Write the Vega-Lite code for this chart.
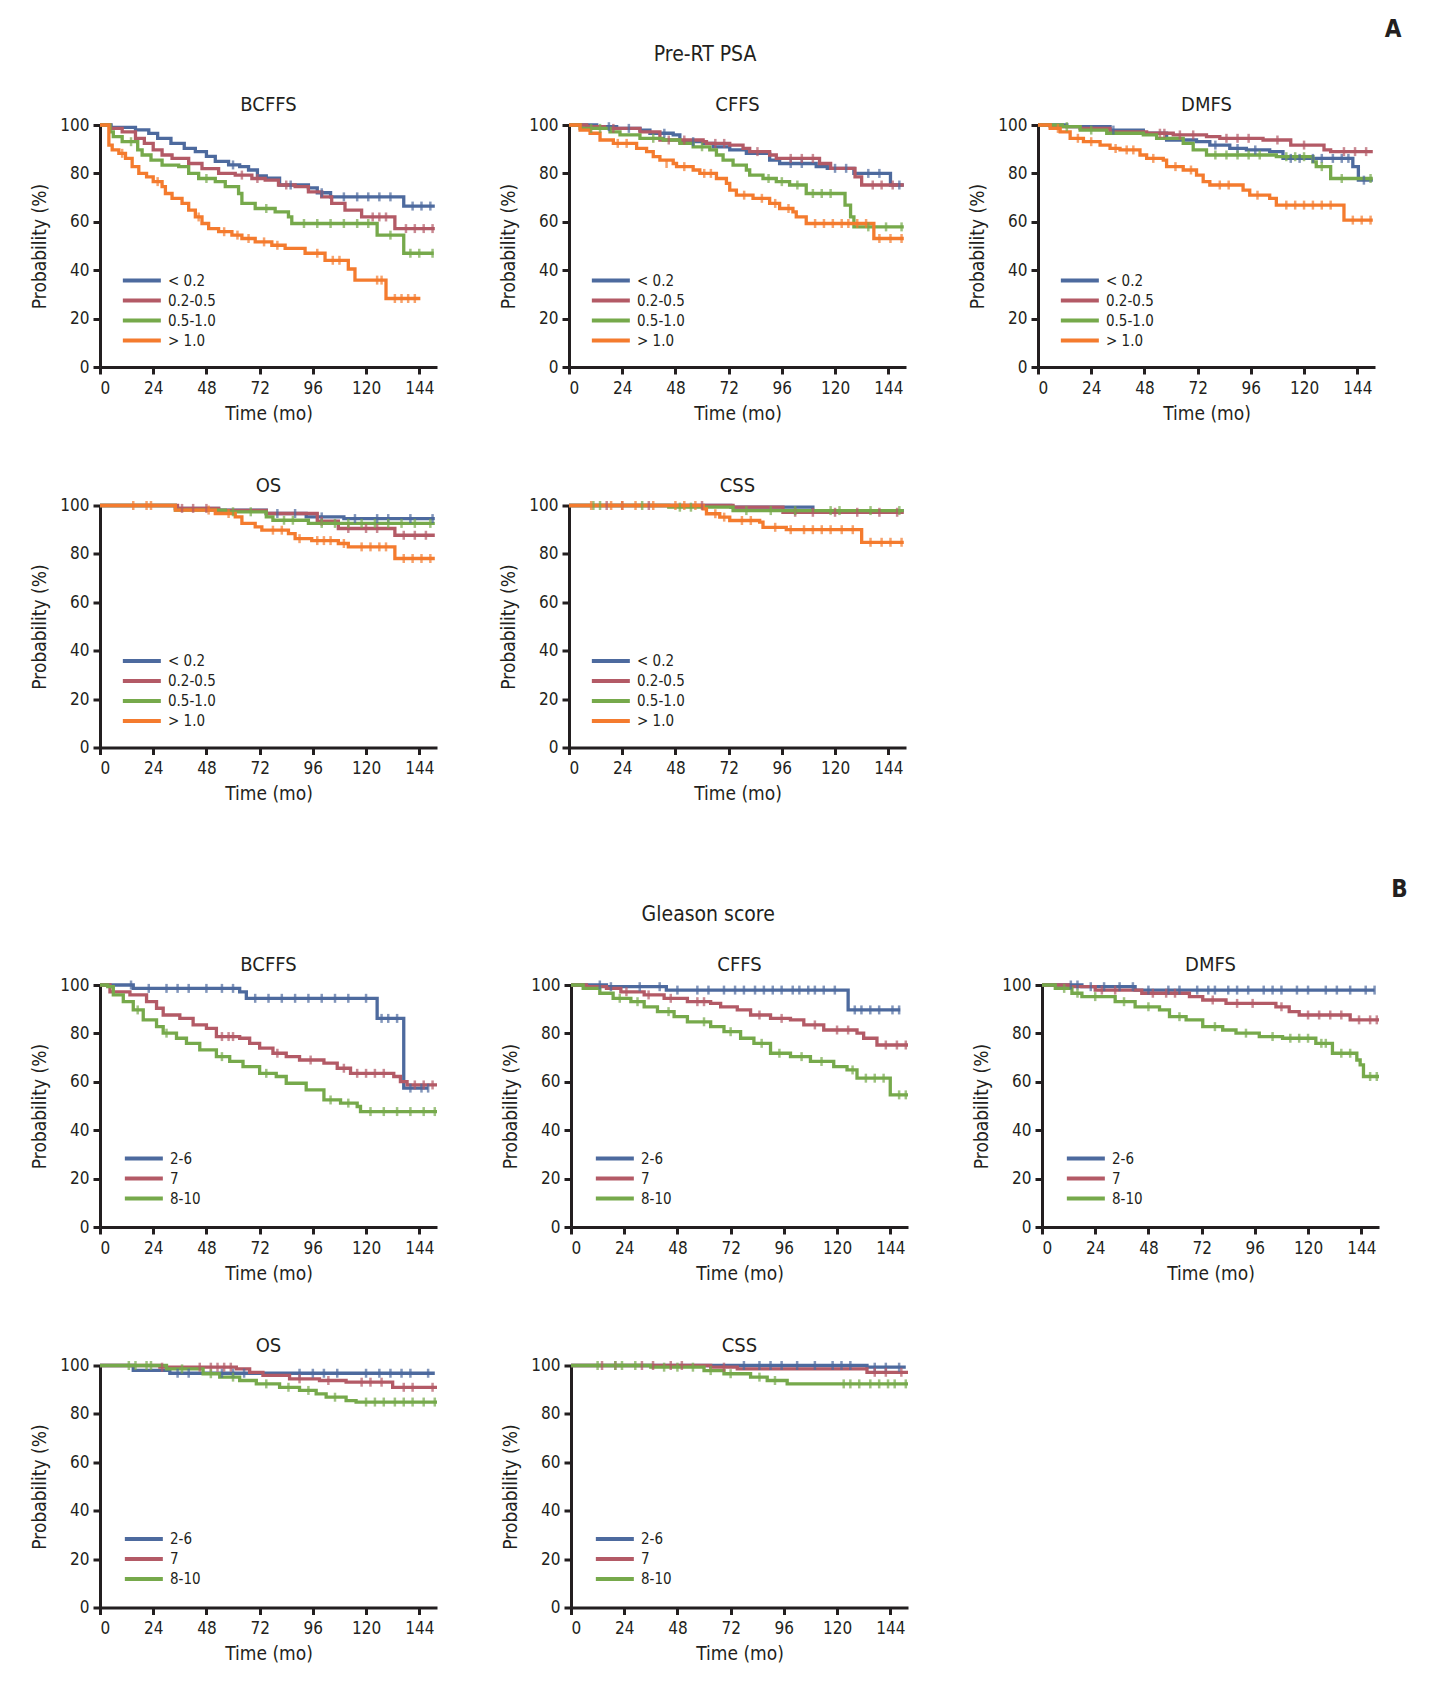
{
"$schema":"https://vega.github.io/schema/vega-lite/v6.json",
"background":"white",
"padding":{"left":30,"top":18,"right":5,"bottom":5},
"config":{
 "font":"Liberation Sans Narrow, DejaVu Sans Condensed, sans-serif",
 "view":{"continuousWidth":337,"continuousHeight":242,"stroke":null},
 "axis":{"grid":false,"domainColor":"#231F20","domainWidth":3,"tickColor":"#231F20","tickWidth":3,"tickSize":7,"labelFontSize":17,"labelColor":"#231F20","labelPadding":4,"titleFontSize":19,"titleFontWeight":"normal","titleColor":"#231F20"},
 "axisX":{"titlePadding":8,"labelPadding":6},
 "axisY":{"titlePadding":10},
 "legend":{"orient":"bottom-left","offset":18,"padding":0,"symbolType":"M-0.7,0H3.3","symbolSize":361,"symbolStrokeWidth":4,"labelFontSize":15,"labelColor":"#231F20","rowPadding":0,"labelOffset":27},
 "title":{"fontSize":20,"fontWeight":"normal","color":"#231F20","offset":1},
 "tick":{"thickness":2.5}
},
"datasets":{
"A_BCFFS":[
{"g":"< 0.2","t":0,"s":100},{"g":"< 0.2","t":5,"s":99},{"g":"< 0.2","t":16,"s":98},{"g":"< 0.2","t":22,"s":96.5},{"g":"< 0.2","t":26,"s":94.5},{"g":"< 0.2","t":32,"s":92.4},{"g":"< 0.2","t":38,"s":90.3},{"g":"< 0.2","t":43,"s":89},{"g":"< 0.2","t":48,"s":87},{"g":"< 0.2","t":52,"s":85},{"g":"< 0.2","t":58,"s":83.5},{"g":"< 0.2","t":63,"s":82.8},{"g":"< 0.2","t":67,"s":81.4},{"g":"< 0.2","t":71,"s":79},{"g":"< 0.2","t":75,"s":78},{"g":"< 0.2","t":81,"s":75.2},{"g":"< 0.2","t":94,"s":74},{"g":"< 0.2","t":98,"s":72},{"g":"< 0.2","t":104,"s":70.3},{"g":"< 0.2","t":137,"s":66.5},{"g":"< 0.2","t":151,"s":66.5},
{"g":"< 0.2","t":60,"s":83.5,"c":1},{"g":"< 0.2","t":86,"s":75.2,"c":1},{"g":"< 0.2","t":100,"s":72,"c":1},{"g":"< 0.2","t":110,"s":70.3,"c":1},{"g":"< 0.2","t":116,"s":70.3,"c":1},{"g":"< 0.2","t":121,"s":70.3,"c":1},{"g":"< 0.2","t":126,"s":70.3,"c":1},{"g":"< 0.2","t":131,"s":70.3,"c":1},{"g":"< 0.2","t":141,"s":66.5,"c":1},{"g":"< 0.2","t":145,"s":66.5,"c":1},{"g":"< 0.2","t":149,"s":66.5,"c":1},
{"g":"0.2-0.5","t":0,"s":100},{"g":"0.2-0.5","t":4.5,"s":98.6},{"g":"0.2-0.5","t":10,"s":97.2},{"g":"0.2-0.5","t":16,"s":94.5},{"g":"0.2-0.5","t":20,"s":92.4},{"g":"0.2-0.5","t":24,"s":89.7},{"g":"0.2-0.5","t":28,"s":87.6},{"g":"0.2-0.5","t":32.5,"s":86.2},{"g":"0.2-0.5","t":40,"s":84.1},{"g":"0.2-0.5","t":46,"s":82},{"g":"0.2-0.5","t":53.5,"s":80},{"g":"0.2-0.5","t":61,"s":79.3},{"g":"0.2-0.5","t":68.5,"s":77.9},{"g":"0.2-0.5","t":74.5,"s":77.2},{"g":"0.2-0.5","t":80.5,"s":75.2},{"g":"0.2-0.5","t":88,"s":74.5},{"g":"0.2-0.5","t":94,"s":72.4},{"g":"0.2-0.5","t":100,"s":70.3},{"g":"0.2-0.5","t":104.5,"s":67.6},{"g":"0.2-0.5","t":110.5,"s":64.8},{"g":"0.2-0.5","t":118,"s":62},{"g":"0.2-0.5","t":133,"s":57.2},{"g":"0.2-0.5","t":151,"s":57.2},
{"g":"0.2-0.5","t":64,"s":79.3,"c":1},{"g":"0.2-0.5","t":71,"s":77.9,"c":1},{"g":"0.2-0.5","t":84,"s":75.2,"c":1},{"g":"0.2-0.5","t":123,"s":62,"c":1},{"g":"0.2-0.5","t":126,"s":62,"c":1},{"g":"0.2-0.5","t":129,"s":62,"c":1},{"g":"0.2-0.5","t":138,"s":57.2,"c":1},{"g":"0.2-0.5","t":142,"s":57.2,"c":1},{"g":"0.2-0.5","t":146,"s":57.2,"c":1},{"g":"0.2-0.5","t":150,"s":57.2,"c":1},
{"g":"0.5-1.0","t":0,"s":100},{"g":"0.5-1.0","t":4.5,"s":97.2},{"g":"0.5-1.0","t":6,"s":95.2},{"g":"0.5-1.0","t":10,"s":93.1},{"g":"0.5-1.0","t":17,"s":89.7},{"g":"0.5-1.0","t":19,"s":87.6},{"g":"0.5-1.0","t":23,"s":85.5},{"g":"0.5-1.0","t":28,"s":83.4},{"g":"0.5-1.0","t":35.5,"s":82.8},{"g":"0.5-1.0","t":40,"s":80},{"g":"0.5-1.0","t":44.5,"s":77.9},{"g":"0.5-1.0","t":52,"s":76.6},{"g":"0.5-1.0","t":56.5,"s":74.5},{"g":"0.5-1.0","t":62.5,"s":71.7},{"g":"0.5-1.0","t":64,"s":67.6},{"g":"0.5-1.0","t":70,"s":65.5},{"g":"0.5-1.0","t":79,"s":64.1},{"g":"0.5-1.0","t":85,"s":62},{"g":"0.5-1.0","t":86.5,"s":59.3},{"g":"0.5-1.0","t":125,"s":54.5},{"g":"0.5-1.0","t":137,"s":47},{"g":"0.5-1.0","t":150.5,"s":47},
{"g":"0.5-1.0","t":14,"s":93.1,"c":1},{"g":"0.5-1.0","t":48,"s":77.9,"c":1},{"g":"0.5-1.0","t":75,"s":65.5,"c":1},{"g":"0.5-1.0","t":92,"s":59.3,"c":1},{"g":"0.5-1.0","t":98,"s":59.3,"c":1},{"g":"0.5-1.0","t":104,"s":59.3,"c":1},{"g":"0.5-1.0","t":110,"s":59.3,"c":1},{"g":"0.5-1.0","t":116,"s":59.3,"c":1},{"g":"0.5-1.0","t":121,"s":59.3,"c":1},{"g":"0.5-1.0","t":131,"s":54.5,"c":1},{"g":"0.5-1.0","t":140,"s":47,"c":1},{"g":"0.5-1.0","t":144,"s":47,"c":1},{"g":"0.5-1.0","t":150,"s":47,"c":1},
{"g":"> 1.0","t":0,"s":100},{"g":"> 1.0","t":4,"s":91.7},{"g":"> 1.0","t":5.5,"s":89.7},{"g":"> 1.0","t":8.5,"s":88.3},{"g":"> 1.0","t":11.5,"s":86.2},{"g":"> 1.0","t":14.5,"s":82.8},{"g":"> 1.0","t":17.5,"s":80},{"g":"> 1.0","t":21,"s":78.6},{"g":"> 1.0","t":24,"s":76.6},{"g":"> 1.0","t":28,"s":74.5},{"g":"> 1.0","t":29.5,"s":71.7},{"g":"> 1.0","t":32.5,"s":69.7},{"g":"> 1.0","t":37,"s":67.6},{"g":"> 1.0","t":40,"s":64.8},{"g":"> 1.0","t":43,"s":62},{"g":"> 1.0","t":46,"s":59.3},{"g":"> 1.0","t":49,"s":57.2},{"g":"> 1.0","t":53.5,"s":55.9},{"g":"> 1.0","t":59.5,"s":54.5},{"g":"> 1.0","t":64,"s":53.1},{"g":"> 1.0","t":70,"s":51.7},{"g":"> 1.0","t":77.5,"s":50.3},{"g":"> 1.0","t":83.5,"s":49},{"g":"> 1.0","t":92.5,"s":47},{"g":"> 1.0","t":101.5,"s":44.1},{"g":"> 1.0","t":112,"s":40.5},{"g":"> 1.0","t":115,"s":35.9},{"g":"> 1.0","t":129,"s":28.3},{"g":"> 1.0","t":144.5,"s":28.3},
{"g":"> 1.0","t":10,"s":88.3,"c":1},{"g":"> 1.0","t":26,"s":76.6,"c":1},{"g":"> 1.0","t":44.5,"s":62,"c":1},{"g":"> 1.0","t":56,"s":55.9,"c":1},{"g":"> 1.0","t":62,"s":54.5,"c":1},{"g":"> 1.0","t":67,"s":53.1,"c":1},{"g":"> 1.0","t":74,"s":51.7,"c":1},{"g":"> 1.0","t":80,"s":50.3,"c":1},{"g":"> 1.0","t":98,"s":47,"c":1},{"g":"> 1.0","t":105,"s":44.1,"c":1},{"g":"> 1.0","t":108,"s":44.1,"c":1},{"g":"> 1.0","t":125,"s":35.9,"c":1},{"g":"> 1.0","t":127,"s":35.9,"c":1},{"g":"> 1.0","t":133,"s":28.3,"c":1},{"g":"> 1.0","t":136,"s":28.3,"c":1},{"g":"> 1.0","t":139,"s":28.3,"c":1},{"g":"> 1.0","t":142,"s":28.3,"c":1}
],
"A_CFFS":[
{"g":"< 0.2","t":0,"s":100},{"g":"< 0.2","t":12.5,"s":99.3},{"g":"< 0.2","t":21.5,"s":98.6},{"g":"< 0.2","t":32,"s":97.9},{"g":"< 0.2","t":36.5,"s":96.6},{"g":"< 0.2","t":47,"s":95.9},{"g":"< 0.2","t":50,"s":93.1},{"g":"< 0.2","t":60.5,"s":92.4},{"g":"< 0.2","t":65,"s":91},{"g":"< 0.2","t":72.5,"s":89.7},{"g":"< 0.2","t":80,"s":88.3},{"g":"< 0.2","t":90.5,"s":85.5},{"g":"< 0.2","t":95,"s":84.1},{"g":"< 0.2","t":111.5,"s":82.8},{"g":"< 0.2","t":116.5,"s":82.1},{"g":"< 0.2","t":128.5,"s":80},{"g":"< 0.2","t":145,"s":75.2},{"g":"< 0.2","t":151,"s":75.2},
{"g":"< 0.2","t":18,"s":99.3,"c":1},{"g":"< 0.2","t":27,"s":98.6,"c":1},{"g":"< 0.2","t":43,"s":96.6,"c":1},{"g":"< 0.2","t":56,"s":93.1,"c":1},{"g":"< 0.2","t":100,"s":84.1,"c":1},{"g":"< 0.2","t":105,"s":84.1,"c":1},{"g":"< 0.2","t":120,"s":82.1,"c":1},{"g":"< 0.2","t":125,"s":82.1,"c":1},{"g":"< 0.2","t":135,"s":80,"c":1},{"g":"< 0.2","t":140,"s":80,"c":1},{"g":"< 0.2","t":149,"s":75.2,"c":1},
{"g":"0.2-0.5","t":0,"s":100},{"g":"0.2-0.5","t":8,"s":99.3},{"g":"0.2-0.5","t":16,"s":98.6},{"g":"0.2-0.5","t":32,"s":97.2},{"g":"0.2-0.5","t":41,"s":93.8},{"g":"0.2-0.5","t":60.5,"s":93.1},{"g":"0.2-0.5","t":62,"s":92.4},{"g":"0.2-0.5","t":72.5,"s":91.7},{"g":"0.2-0.5","t":78.5,"s":90.3},{"g":"0.2-0.5","t":81.5,"s":89},{"g":"0.2-0.5","t":90.5,"s":87.6},{"g":"0.2-0.5","t":93.5,"s":86.2},{"g":"0.2-0.5","t":113,"s":84.1},{"g":"0.2-0.5","t":118,"s":82.1},{"g":"0.2-0.5","t":129,"s":78.6},{"g":"0.2-0.5","t":132,"s":75.2},{"g":"0.2-0.5","t":151,"s":75.2},
{"g":"0.2-0.5","t":20,"s":98.6,"c":1},{"g":"0.2-0.5","t":45,"s":93.8,"c":1},{"g":"0.2-0.5","t":52,"s":93.8,"c":1},{"g":"0.2-0.5","t":66,"s":92.4,"c":1},{"g":"0.2-0.5","t":70,"s":92.4,"c":1},{"g":"0.2-0.5","t":85,"s":89,"c":1},{"g":"0.2-0.5","t":100,"s":86.2,"c":1},{"g":"0.2-0.5","t":105,"s":86.2,"c":1},{"g":"0.2-0.5","t":110,"s":86.2,"c":1},{"g":"0.2-0.5","t":137,"s":75.2,"c":1},{"g":"0.2-0.5","t":141,"s":75.2,"c":1},{"g":"0.2-0.5","t":146,"s":75.2,"c":1},
{"g":"0.5-1.0","t":0,"s":100},{"g":"0.5-1.0","t":5,"s":98.6},{"g":"0.5-1.0","t":18.5,"s":97.2},{"g":"0.5-1.0","t":23,"s":95.9},{"g":"0.5-1.0","t":32,"s":94.5},{"g":"0.5-1.0","t":42.5,"s":93.8},{"g":"0.5-1.0","t":50,"s":92.4},{"g":"0.5-1.0","t":56,"s":91},{"g":"0.5-1.0","t":63.5,"s":89.7},{"g":"0.5-1.0","t":66.5,"s":87.6},{"g":"0.5-1.0","t":69.5,"s":85.5},{"g":"0.5-1.0","t":74,"s":83.4},{"g":"0.5-1.0","t":80,"s":81.4},{"g":"0.5-1.0","t":81.5,"s":79.3},{"g":"0.5-1.0","t":87.5,"s":77.9},{"g":"0.5-1.0","t":93.5,"s":76.6},{"g":"0.5-1.0","t":99.5,"s":75.2},{"g":"0.5-1.0","t":107,"s":71.7},{"g":"0.5-1.0","t":124.5,"s":66.9},{"g":"0.5-1.0","t":127,"s":62},{"g":"0.5-1.0","t":128.5,"s":57.9},{"g":"0.5-1.0","t":151,"s":57.9},
{"g":"0.5-1.0","t":10,"s":98.6,"c":1},{"g":"0.5-1.0","t":14,"s":98.6,"c":1},{"g":"0.5-1.0","t":38,"s":94.5,"c":1},{"g":"0.5-1.0","t":60,"s":91,"c":1},{"g":"0.5-1.0","t":90,"s":77.9,"c":1},{"g":"0.5-1.0","t":96,"s":76.6,"c":1},{"g":"0.5-1.0","t":103,"s":75.2,"c":1},{"g":"0.5-1.0","t":110,"s":71.7,"c":1},{"g":"0.5-1.0","t":114,"s":71.7,"c":1},{"g":"0.5-1.0","t":118,"s":71.7,"c":1},{"g":"0.5-1.0","t":135,"s":57.9,"c":1},{"g":"0.5-1.0","t":143,"s":57.9,"c":1},{"g":"0.5-1.0","t":150,"s":57.9,"c":1},
{"g":"> 1.0","t":0,"s":100},{"g":"> 1.0","t":5,"s":97.9},{"g":"> 1.0","t":9.5,"s":96.6},{"g":"> 1.0","t":14,"s":93.8},{"g":"> 1.0","t":20,"s":92.4},{"g":"> 1.0","t":30.5,"s":90.3},{"g":"> 1.0","t":35,"s":89},{"g":"> 1.0","t":38,"s":86.9},{"g":"> 1.0","t":41,"s":85.5},{"g":"> 1.0","t":47,"s":84.1},{"g":"> 1.0","t":48.5,"s":82.8},{"g":"> 1.0","t":56,"s":81.4},{"g":"> 1.0","t":59,"s":80},{"g":"> 1.0","t":66.5,"s":77.9},{"g":"> 1.0","t":71,"s":75.9},{"g":"> 1.0","t":72.5,"s":73.1},{"g":"> 1.0","t":75.5,"s":71},{"g":"> 1.0","t":83,"s":69.7},{"g":"> 1.0","t":90.5,"s":67.6},{"g":"> 1.0","t":95,"s":65.5},{"g":"> 1.0","t":101,"s":64.1},{"g":"> 1.0","t":102.5,"s":62},{"g":"> 1.0","t":107,"s":59.3},{"g":"> 1.0","t":137.5,"s":53.1},{"g":"> 1.0","t":151,"s":53.1},
{"g":"> 1.0","t":22,"s":92.4,"c":1},{"g":"> 1.0","t":26,"s":92.4,"c":1},{"g":"> 1.0","t":44,"s":84.1,"c":1},{"g":"> 1.0","t":52,"s":82.8,"c":1},{"g":"> 1.0","t":61,"s":80,"c":1},{"g":"> 1.0","t":64,"s":80,"c":1},{"g":"> 1.0","t":79,"s":71,"c":1},{"g":"> 1.0","t":87,"s":69.7,"c":1},{"g":"> 1.0","t":93,"s":67.6,"c":1},{"g":"> 1.0","t":99,"s":65.5,"c":1},{"g":"> 1.0","t":111,"s":59.3,"c":1},{"g":"> 1.0","t":115,"s":59.3,"c":1},{"g":"> 1.0","t":119,"s":59.3,"c":1},{"g":"> 1.0","t":123,"s":59.3,"c":1},{"g":"> 1.0","t":126,"s":59.3,"c":1},{"g":"> 1.0","t":130,"s":59.3,"c":1},{"g":"> 1.0","t":134,"s":59.3,"c":1},{"g":"> 1.0","t":140,"s":53.1,"c":1},{"g":"> 1.0","t":145,"s":53.1,"c":1},{"g":"> 1.0","t":150,"s":53.1,"c":1}
],
"A_DMFS":[
{"g":"< 0.2","t":0,"s":100},{"g":"< 0.2","t":13,"s":99.3},{"g":"< 0.2","t":32.5,"s":97.9},{"g":"< 0.2","t":47.5,"s":96.6},{"g":"< 0.2","t":58,"s":93.8},{"g":"< 0.2","t":71.5,"s":93.1},{"g":"< 0.2","t":77.5,"s":91.7},{"g":"< 0.2","t":86.5,"s":90.3},{"g":"< 0.2","t":94,"s":89.7},{"g":"< 0.2","t":104.5,"s":89},{"g":"< 0.2","t":110.5,"s":86.2},{"g":"< 0.2","t":142,"s":82.8},{"g":"< 0.2","t":144.5,"s":77.2},{"g":"< 0.2","t":151,"s":77.2},
{"g":"< 0.2","t":34,"s":97.9,"c":1},{"g":"< 0.2","t":80,"s":91.7,"c":1},{"g":"< 0.2","t":90,"s":90.3,"c":1},{"g":"< 0.2","t":98,"s":89.7,"c":1},{"g":"< 0.2","t":114,"s":86.2,"c":1},{"g":"< 0.2","t":118,"s":86.2,"c":1},{"g":"< 0.2","t":124,"s":86.2,"c":1},{"g":"< 0.2","t":128,"s":86.2,"c":1},{"g":"< 0.2","t":133,"s":86.2,"c":1},{"g":"< 0.2","t":137,"s":86.2,"c":1},{"g":"< 0.2","t":140,"s":86.2,"c":1},{"g":"< 0.2","t":147,"s":77.2,"c":1},
{"g":"0.2-0.5","t":0,"s":100},{"g":"0.2-0.5","t":5.5,"s":99.3},{"g":"0.2-0.5","t":19,"s":98.6},{"g":"0.2-0.5","t":32.5,"s":97.2},{"g":"0.2-0.5","t":49,"s":96.6},{"g":"0.2-0.5","t":61,"s":95.9},{"g":"0.2-0.5","t":76,"s":95.2},{"g":"0.2-0.5","t":82,"s":94.5},{"g":"0.2-0.5","t":101.5,"s":93.8},{"g":"0.2-0.5","t":114,"s":91.7},{"g":"0.2-0.5","t":129,"s":89.7},{"g":"0.2-0.5","t":132,"s":89},{"g":"0.2-0.5","t":151,"s":89},
{"g":"0.2-0.5","t":55,"s":96.6,"c":1},{"g":"0.2-0.5","t":57,"s":96.6,"c":1},{"g":"0.2-0.5","t":64,"s":95.9,"c":1},{"g":"0.2-0.5","t":70,"s":95.9,"c":1},{"g":"0.2-0.5","t":85,"s":94.5,"c":1},{"g":"0.2-0.5","t":90,"s":94.5,"c":1},{"g":"0.2-0.5","t":95,"s":94.5,"c":1},{"g":"0.2-0.5","t":108,"s":93.8,"c":1},{"g":"0.2-0.5","t":120,"s":91.7,"c":1},{"g":"0.2-0.5","t":138,"s":89,"c":1},{"g":"0.2-0.5","t":143,"s":89,"c":1},{"g":"0.2-0.5","t":148,"s":89,"c":1},
{"g":"0.5-1.0","t":0,"s":100},{"g":"0.5-1.0","t":11,"s":99.3},{"g":"0.5-1.0","t":19,"s":97.9},{"g":"0.5-1.0","t":31,"s":96.6},{"g":"0.5-1.0","t":47.5,"s":95.9},{"g":"0.5-1.0","t":53.5,"s":94.5},{"g":"0.5-1.0","t":65.5,"s":92.4},{"g":"0.5-1.0","t":70,"s":89.7},{"g":"0.5-1.0","t":76,"s":87.6},{"g":"0.5-1.0","t":107.5,"s":86.9},{"g":"0.5-1.0","t":124,"s":84.8},{"g":"0.5-1.0","t":125.5,"s":82.8},{"g":"0.5-1.0","t":132,"s":77.9},{"g":"0.5-1.0","t":151,"s":77.9},
{"g":"0.5-1.0","t":13,"s":99.3,"c":1},{"g":"0.5-1.0","t":24,"s":97.9,"c":1},{"g":"0.5-1.0","t":80,"s":87.6,"c":1},{"g":"0.5-1.0","t":85,"s":87.6,"c":1},{"g":"0.5-1.0","t":90,"s":87.6,"c":1},{"g":"0.5-1.0","t":95,"s":87.6,"c":1},{"g":"0.5-1.0","t":100,"s":87.6,"c":1},{"g":"0.5-1.0","t":112,"s":86.9,"c":1},{"g":"0.5-1.0","t":116,"s":86.9,"c":1},{"g":"0.5-1.0","t":120,"s":86.9,"c":1},{"g":"0.5-1.0","t":128,"s":82.8,"c":1},{"g":"0.5-1.0","t":137,"s":77.9,"c":1},{"g":"0.5-1.0","t":150,"s":77.9,"c":1},
{"g":"> 1.0","t":0,"s":100},{"g":"> 1.0","t":5.5,"s":98.6},{"g":"> 1.0","t":10,"s":97.2},{"g":"> 1.0","t":14.5,"s":94.5},{"g":"> 1.0","t":20.5,"s":93.1},{"g":"> 1.0","t":28,"s":91.7},{"g":"> 1.0","t":32.5,"s":90.3},{"g":"> 1.0","t":37,"s":89.7},{"g":"> 1.0","t":46,"s":87.6},{"g":"> 1.0","t":49,"s":86.2},{"g":"> 1.0","t":56.5,"s":85.5},{"g":"> 1.0","t":58,"s":82.8},{"g":"> 1.0","t":65.5,"s":81.4},{"g":"> 1.0","t":71.5,"s":79.3},{"g":"> 1.0","t":74.5,"s":76.6},{"g":"> 1.0","t":77.5,"s":75.2},{"g":"> 1.0","t":92.5,"s":73.1},{"g":"> 1.0","t":95.5,"s":71},{"g":"> 1.0","t":104.5,"s":69.7},{"g":"> 1.0","t":107.5,"s":66.9},{"g":"> 1.0","t":138,"s":60.7},{"g":"> 1.0","t":151,"s":60.7},
{"g":"> 1.0","t":9,"s":98.6,"c":1},{"g":"> 1.0","t":18,"s":94.5,"c":1},{"g":"> 1.0","t":24,"s":93.1,"c":1},{"g":"> 1.0","t":35,"s":90.3,"c":1},{"g":"> 1.0","t":40,"s":89.7,"c":1},{"g":"> 1.0","t":43,"s":89.7,"c":1},{"g":"> 1.0","t":52,"s":86.2,"c":1},{"g":"> 1.0","t":62,"s":82.8,"c":1},{"g":"> 1.0","t":69,"s":81.4,"c":1},{"g":"> 1.0","t":82,"s":75.2,"c":1},{"g":"> 1.0","t":86,"s":75.2,"c":1},{"g":"> 1.0","t":99,"s":71,"c":1},{"g":"> 1.0","t":112,"s":66.9,"c":1},{"g":"> 1.0","t":116,"s":66.9,"c":1},{"g":"> 1.0","t":120,"s":66.9,"c":1},{"g":"> 1.0","t":124,"s":66.9,"c":1},{"g":"> 1.0","t":128,"s":66.9,"c":1},{"g":"> 1.0","t":132,"s":66.9,"c":1},{"g":"> 1.0","t":142,"s":60.7,"c":1},{"g":"> 1.0","t":146,"s":60.7,"c":1},{"g":"> 1.0","t":150,"s":60.7,"c":1}
],
"A_OS":[
{"g":"< 0.2","t":0,"s":100},{"g":"< 0.2","t":34,"s":98.8},{"g":"< 0.2","t":53.5,"s":98.1},{"g":"< 0.2","t":75,"s":96.7},{"g":"< 0.2","t":93,"s":95.3},{"g":"< 0.2","t":110,"s":94.6},{"g":"< 0.2","t":151,"s":94.6},
{"g":"< 0.2","t":80,"s":96.7,"c":1},{"g":"< 0.2","t":88,"s":96.7,"c":1},{"g":"< 0.2","t":100,"s":95.3,"c":1},{"g":"< 0.2","t":115,"s":94.6,"c":1},{"g":"< 0.2","t":125,"s":94.6,"c":1},{"g":"< 0.2","t":130,"s":94.6,"c":1},{"g":"< 0.2","t":140,"s":94.6,"c":1},{"g":"< 0.2","t":150,"s":94.6,"c":1},
{"g":"0.2-0.5","t":0,"s":100},{"g":"0.2-0.5","t":35,"s":98.8},{"g":"0.2-0.5","t":53.5,"s":98},{"g":"0.2-0.5","t":75,"s":96.7},{"g":"0.2-0.5","t":98,"s":93.5},{"g":"0.2-0.5","t":107.5,"s":90.5},{"g":"0.2-0.5","t":133,"s":87.7},{"g":"0.2-0.5","t":151,"s":87.7},
{"g":"0.2-0.5","t":37,"s":98.8,"c":1},{"g":"0.2-0.5","t":42,"s":98.8,"c":1},{"g":"0.2-0.5","t":48,"s":98.8,"c":1},{"g":"0.2-0.5","t":100,"s":93.5,"c":1},{"g":"0.2-0.5","t":112,"s":90.5,"c":1},{"g":"0.2-0.5","t":120,"s":90.5,"c":1},{"g":"0.2-0.5","t":125,"s":90.5,"c":1},{"g":"0.2-0.5","t":137,"s":87.7,"c":1},{"g":"0.2-0.5","t":142,"s":87.7,"c":1},{"g":"0.2-0.5","t":147,"s":87.7,"c":1},
{"g":"0.5-1.0","t":0,"s":100},{"g":"0.5-1.0","t":34,"s":98.1},{"g":"0.5-1.0","t":56.5,"s":97.4},{"g":"0.5-1.0","t":75,"s":95.3},{"g":"0.5-1.0","t":78,"s":93.9},{"g":"0.5-1.0","t":94,"s":92.6},{"g":"0.5-1.0","t":151,"s":92.6},
{"g":"0.5-1.0","t":60,"s":97.4,"c":1},{"g":"0.5-1.0","t":68,"s":97.4,"c":1},{"g":"0.5-1.0","t":83,"s":93.9,"c":1},{"g":"0.5-1.0","t":87,"s":93.9,"c":1},{"g":"0.5-1.0","t":100,"s":92.6,"c":1},{"g":"0.5-1.0","t":106,"s":92.6,"c":1},{"g":"0.5-1.0","t":112,"s":92.6,"c":1},{"g":"0.5-1.0","t":118,"s":92.6,"c":1},{"g":"0.5-1.0","t":124,"s":92.6,"c":1},{"g":"0.5-1.0","t":130,"s":92.6,"c":1},{"g":"0.5-1.0","t":136,"s":92.6,"c":1},{"g":"0.5-1.0","t":142,"s":92.6,"c":1},{"g":"0.5-1.0","t":149,"s":92.6,"c":1},
{"g":"> 1.0","t":0,"s":100},{"g":"> 1.0","t":34,"s":98.1},{"g":"> 1.0","t":52,"s":96.7},{"g":"> 1.0","t":61,"s":95.3},{"g":"> 1.0","t":64,"s":92.6},{"g":"> 1.0","t":70,"s":91.2},{"g":"> 1.0","t":73,"s":89.8},{"g":"> 1.0","t":85,"s":88.4},{"g":"> 1.0","t":88,"s":86.3},{"g":"> 1.0","t":95.5,"s":85.5},{"g":"> 1.0","t":107.5,"s":84.3},{"g":"> 1.0","t":112,"s":82.9},{"g":"> 1.0","t":133,"s":78.1},{"g":"> 1.0","t":151,"s":78.1},
{"g":"> 1.0","t":15,"s":100,"c":1},{"g":"> 1.0","t":21,"s":100,"c":1},{"g":"> 1.0","t":23,"s":100,"c":1},{"g":"> 1.0","t":49,"s":98.1,"c":1},{"g":"> 1.0","t":58,"s":96.7,"c":1},{"g":"> 1.0","t":78,"s":89.8,"c":1},{"g":"> 1.0","t":82,"s":89.8,"c":1},{"g":"> 1.0","t":90,"s":86.3,"c":1},{"g":"> 1.0","t":98,"s":85.5,"c":1},{"g":"> 1.0","t":101,"s":85.5,"c":1},{"g":"> 1.0","t":104,"s":85.5,"c":1},{"g":"> 1.0","t":110,"s":84.3,"c":1},{"g":"> 1.0","t":118,"s":82.9,"c":1},{"g":"> 1.0","t":122,"s":82.9,"c":1},{"g":"> 1.0","t":126,"s":82.9,"c":1},{"g":"> 1.0","t":129,"s":82.9,"c":1},{"g":"> 1.0","t":137,"s":78.1,"c":1},{"g":"> 1.0","t":141,"s":78.1,"c":1},{"g":"> 1.0","t":145,"s":78.1,"c":1},{"g":"> 1.0","t":149,"s":78.1,"c":1}
],
"A_CSS":[
{"g":"< 0.2","t":0,"s":100},{"g":"< 0.2","t":73,"s":99.3},{"g":"< 0.2","t":110,"s":97.9},{"g":"< 0.2","t":151,"s":97.9},
{"g":"0.2-0.5","t":0,"s":100},{"g":"0.2-0.5","t":74,"s":99.3},{"g":"0.2-0.5","t":96.5,"s":97.2},{"g":"0.2-0.5","t":151,"s":97.2},
{"g":"0.2-0.5","t":17,"s":100,"c":1},{"g":"0.2-0.5","t":24,"s":100,"c":1},{"g":"0.2-0.5","t":36,"s":100,"c":1},{"g":"0.2-0.5","t":60,"s":100,"c":1},{"g":"0.2-0.5","t":102,"s":97.2,"c":1},{"g":"0.2-0.5","t":110,"s":97.2,"c":1},{"g":"0.2-0.5","t":120,"s":97.2,"c":1},{"g":"0.2-0.5","t":130,"s":97.2,"c":1},{"g":"0.2-0.5","t":140,"s":97.2,"c":1},{"g":"0.2-0.5","t":148,"s":97.2,"c":1},
{"g":"0.5-1.0","t":0,"s":100},{"g":"0.5-1.0","t":45,"s":99.3},{"g":"0.5-1.0","t":74,"s":97.9},{"g":"0.5-1.0","t":151,"s":97.9},
{"g":"0.5-1.0","t":11,"s":100,"c":1},{"g":"0.5-1.0","t":14,"s":100,"c":1},{"g":"0.5-1.0","t":33,"s":100,"c":1},{"g":"0.5-1.0","t":50,"s":99.3,"c":1},{"g":"0.5-1.0","t":55,"s":99.3,"c":1},{"g":"0.5-1.0","t":80,"s":97.9,"c":1},{"g":"0.5-1.0","t":91,"s":97.9,"c":1},{"g":"0.5-1.0","t":102,"s":97.9,"c":1},{"g":"0.5-1.0","t":118,"s":97.9,"c":1},{"g":"0.5-1.0","t":122,"s":97.9,"c":1},{"g":"0.5-1.0","t":136,"s":97.9,"c":1},{"g":"0.5-1.0","t":149,"s":97.9,"c":1},
{"g":"> 1.0","t":0,"s":100},{"g":"> 1.0","t":60.5,"s":98.6},{"g":"> 1.0","t":62,"s":96.6},{"g":"> 1.0","t":68,"s":95.2},{"g":"> 1.0","t":72.5,"s":93.8},{"g":"> 1.0","t":86,"s":93.1},{"g":"> 1.0","t":87.5,"s":91},{"g":"> 1.0","t":98,"s":90},{"g":"> 1.0","t":132,"s":84.8},{"g":"> 1.0","t":151,"s":84.8},
{"g":"> 1.0","t":10,"s":100,"c":1},{"g":"> 1.0","t":19,"s":100,"c":1},{"g":"> 1.0","t":24,"s":100,"c":1},{"g":"> 1.0","t":30,"s":100,"c":1},{"g":"> 1.0","t":38,"s":100,"c":1},{"g":"> 1.0","t":48,"s":100,"c":1},{"g":"> 1.0","t":52,"s":100,"c":1},{"g":"> 1.0","t":57,"s":100,"c":1},{"g":"> 1.0","t":66,"s":96.6,"c":1},{"g":"> 1.0","t":70,"s":95.2,"c":1},{"g":"> 1.0","t":78,"s":93.8,"c":1},{"g":"> 1.0","t":82,"s":93.8,"c":1},{"g":"> 1.0","t":93,"s":91,"c":1},{"g":"> 1.0","t":100,"s":90,"c":1},{"g":"> 1.0","t":106,"s":90,"c":1},{"g":"> 1.0","t":110,"s":90,"c":1},{"g":"> 1.0","t":114,"s":90,"c":1},{"g":"> 1.0","t":118,"s":90,"c":1},{"g":"> 1.0","t":123,"s":90,"c":1},{"g":"> 1.0","t":128,"s":90,"c":1},{"g":"> 1.0","t":136,"s":84.8,"c":1},{"g":"> 1.0","t":141,"s":84.8,"c":1},{"g":"> 1.0","t":145,"s":84.8,"c":1},{"g":"> 1.0","t":150,"s":84.8,"c":1}
],
"B_BCFFS":[
{"g":"2-6","t":0,"s":100},{"g":"2-6","t":15,"s":98.6},{"g":"2-6","t":63,"s":97.2},{"g":"2-6","t":66,"s":94.5},{"g":"2-6","t":125,"s":86.2},{"g":"2-6","t":137,"s":57.4},{"g":"2-6","t":148,"s":57.4},
{"g":"2-6","t":14,"s":100,"c":1},{"g":"2-6","t":22,"s":98.6,"c":1},{"g":"2-6","t":30,"s":98.6,"c":1},{"g":"2-6","t":35,"s":98.6,"c":1},{"g":"2-6","t":40,"s":98.6,"c":1},{"g":"2-6","t":48,"s":98.6,"c":1},{"g":"2-6","t":55,"s":98.6,"c":1},{"g":"2-6","t":60,"s":98.6,"c":1},{"g":"2-6","t":70,"s":94.5,"c":1},{"g":"2-6","t":76,"s":94.5,"c":1},{"g":"2-6","t":82,"s":94.5,"c":1},{"g":"2-6","t":88,"s":94.5,"c":1},{"g":"2-6","t":94,"s":94.5,"c":1},{"g":"2-6","t":100,"s":94.5,"c":1},{"g":"2-6","t":106,"s":94.5,"c":1},{"g":"2-6","t":112,"s":94.5,"c":1},{"g":"2-6","t":120,"s":94.5,"c":1},{"g":"2-6","t":127,"s":86.2,"c":1},{"g":"2-6","t":130,"s":86.2,"c":1},{"g":"2-6","t":134,"s":86.2,"c":1},{"g":"2-6","t":140,"s":57.4,"c":1},{"g":"2-6","t":145,"s":57.4,"c":1},{"g":"2-6","t":148,"s":57.4,"c":1},
{"g":"7","t":0,"s":100},{"g":"7","t":4.5,"s":97.2},{"g":"7","t":13.5,"s":95.9},{"g":"7","t":21,"s":93.1},{"g":"7","t":25.5,"s":90.4},{"g":"7","t":28.5,"s":87.6},{"g":"7","t":36,"s":86.2},{"g":"7","t":42,"s":83.5},{"g":"7","t":48,"s":82.1},{"g":"7","t":52.5,"s":78.7},{"g":"7","t":63,"s":78},{"g":"7","t":67.5,"s":75.9},{"g":"7","t":72,"s":73.9},{"g":"7","t":78,"s":71.8},{"g":"7","t":84,"s":70.4},{"g":"7","t":90,"s":69},{"g":"7","t":101,"s":67.7},{"g":"7","t":107,"s":65.6},{"g":"7","t":113,"s":63.5},{"g":"7","t":132.5,"s":62.2},{"g":"7","t":135.5,"s":60.1},{"g":"7","t":138.5,"s":58.7},{"g":"7","t":152,"s":58.7},
{"g":"7","t":55,"s":78.7,"c":1},{"g":"7","t":58,"s":78.7,"c":1},{"g":"7","t":60,"s":78.7,"c":1},{"g":"7","t":80,"s":71.8,"c":1},{"g":"7","t":95,"s":69,"c":1},{"g":"7","t":110,"s":65.6,"c":1},{"g":"7","t":116,"s":63.5,"c":1},{"g":"7","t":120,"s":63.5,"c":1},{"g":"7","t":124,"s":63.5,"c":1},{"g":"7","t":128,"s":63.5,"c":1},{"g":"7","t":142,"s":58.7,"c":1},{"g":"7","t":146,"s":58.7,"c":1},{"g":"7","t":150,"s":58.7,"c":1},
{"g":"8-10","t":0,"s":100},{"g":"8-10","t":3.5,"s":99.3},{"g":"8-10","t":6,"s":95.9},{"g":"8-10","t":10.5,"s":93.1},{"g":"8-10","t":15,"s":89.7},{"g":"8-10","t":19.5,"s":85.6},{"g":"8-10","t":25.5,"s":82.8},{"g":"8-10","t":28.5,"s":80.1},{"g":"8-10","t":34.5,"s":78},{"g":"8-10","t":39,"s":75.9},{"g":"8-10","t":45,"s":73.2},{"g":"8-10","t":52.5,"s":70.4},{"g":"8-10","t":58.5,"s":68.4},{"g":"8-10","t":64.5,"s":66.3},{"g":"8-10","t":72,"s":63.5},{"g":"8-10","t":79.5,"s":62.2},{"g":"8-10","t":84,"s":59.4},{"g":"8-10","t":93,"s":56.7},{"g":"8-10","t":101,"s":52.5},{"g":"8-10","t":108.5,"s":51.2},{"g":"8-10","t":116,"s":49.8},{"g":"8-10","t":117.5,"s":47.7},{"g":"8-10","t":152,"s":47.7},
{"g":"8-10","t":17,"s":89.7,"c":1},{"g":"8-10","t":30,"s":80.1,"c":1},{"g":"8-10","t":55,"s":70.4,"c":1},{"g":"8-10","t":75,"s":63.5,"c":1},{"g":"8-10","t":104,"s":52.5,"c":1},{"g":"8-10","t":112,"s":51.2,"c":1},{"g":"8-10","t":122,"s":47.7,"c":1},{"g":"8-10","t":128,"s":47.7,"c":1},{"g":"8-10","t":134,"s":47.7,"c":1},{"g":"8-10","t":140,"s":47.7,"c":1},{"g":"8-10","t":146,"s":47.7,"c":1},{"g":"8-10","t":151,"s":47.7,"c":1}
],
"B_CFFS":[
{"g":"2-6","t":0,"s":100},{"g":"2-6","t":16,"s":99.3},{"g":"2-6","t":43,"s":97.9},{"g":"2-6","t":125,"s":89.7},{"g":"2-6","t":148.5,"s":89.7},
{"g":"2-6","t":13,"s":100,"c":1},{"g":"2-6","t":18,"s":99.3,"c":1},{"g":"2-6","t":31,"s":99.3,"c":1},{"g":"2-6","t":40,"s":99.3,"c":1},{"g":"2-6","t":48,"s":97.9,"c":1},{"g":"2-6","t":57,"s":97.9,"c":1},{"g":"2-6","t":62,"s":97.9,"c":1},{"g":"2-6","t":69,"s":97.9,"c":1},{"g":"2-6","t":74,"s":97.9,"c":1},{"g":"2-6","t":78,"s":97.9,"c":1},{"g":"2-6","t":83,"s":97.9,"c":1},{"g":"2-6","t":87,"s":97.9,"c":1},{"g":"2-6","t":91,"s":97.9,"c":1},{"g":"2-6","t":95,"s":97.9,"c":1},{"g":"2-6","t":100,"s":97.9,"c":1},{"g":"2-6","t":103,"s":97.9,"c":1},{"g":"2-6","t":107,"s":97.9,"c":1},{"g":"2-6","t":110,"s":97.9,"c":1},{"g":"2-6","t":114,"s":97.9,"c":1},{"g":"2-6","t":119,"s":97.9,"c":1},{"g":"2-6","t":128,"s":89.7,"c":1},{"g":"2-6","t":131,"s":89.7,"c":1},{"g":"2-6","t":135,"s":89.7,"c":1},{"g":"2-6","t":139,"s":89.7,"c":1},{"g":"2-6","t":145,"s":89.7,"c":1},{"g":"2-6","t":148,"s":89.7,"c":1},
{"g":"7","t":0,"s":100},{"g":"7","t":7,"s":99.3},{"g":"7","t":16,"s":98.6},{"g":"7","t":22.5,"s":97.2},{"g":"7","t":33,"s":95.9},{"g":"7","t":42,"s":94.5},{"g":"7","t":52.5,"s":93.1},{"g":"7","t":63,"s":92.4},{"g":"7","t":67.5,"s":91},{"g":"7","t":75,"s":89.7},{"g":"7","t":81,"s":87.6},{"g":"7","t":90,"s":86.2},{"g":"7","t":99,"s":85.6},{"g":"7","t":105,"s":83.5},{"g":"7","t":114,"s":81.4},{"g":"7","t":129,"s":80.1},{"g":"7","t":132,"s":78},{"g":"7","t":138,"s":75.2},{"g":"7","t":152,"s":75.2},
{"g":"7","t":25,"s":97.2,"c":1},{"g":"7","t":35,"s":95.9,"c":1},{"g":"7","t":45,"s":94.5,"c":1},{"g":"7","t":57,"s":93.1,"c":1},{"g":"7","t":60,"s":93.1,"c":1},{"g":"7","t":85,"s":87.6,"c":1},{"g":"7","t":95,"s":86.2,"c":1},{"g":"7","t":110,"s":83.5,"c":1},{"g":"7","t":120,"s":81.4,"c":1},{"g":"7","t":125,"s":81.4,"c":1},{"g":"7","t":142,"s":75.2,"c":1},{"g":"7","t":147,"s":75.2,"c":1},{"g":"7","t":151,"s":75.2,"c":1},
{"g":"8-10","t":0,"s":100},{"g":"8-10","t":5.5,"s":98.6},{"g":"8-10","t":13,"s":96.6},{"g":"8-10","t":19,"s":94.5},{"g":"8-10","t":27,"s":93.1},{"g":"8-10","t":33,"s":91},{"g":"8-10","t":39,"s":89},{"g":"8-10","t":46.5,"s":86.9},{"g":"8-10","t":52.5,"s":84.8},{"g":"8-10","t":63,"s":82.8},{"g":"8-10","t":69,"s":80.7},{"g":"8-10","t":76.5,"s":78},{"g":"8-10","t":82.5,"s":75.9},{"g":"8-10","t":90,"s":71.8},{"g":"8-10","t":99,"s":70.4},{"g":"8-10","t":108,"s":68.4},{"g":"8-10","t":118.5,"s":66.3},{"g":"8-10","t":124.5,"s":64.9},{"g":"8-10","t":129,"s":61.5},{"g":"8-10","t":144,"s":54.6},{"g":"8-10","t":152,"s":54.6},
{"g":"8-10","t":22,"s":94.5,"c":1},{"g":"8-10","t":30,"s":93.1,"c":1},{"g":"8-10","t":44,"s":89,"c":1},{"g":"8-10","t":60,"s":84.8,"c":1},{"g":"8-10","t":72,"s":80.7,"c":1},{"g":"8-10","t":86,"s":75.9,"c":1},{"g":"8-10","t":94,"s":71.8,"c":1},{"g":"8-10","t":104,"s":70.4,"c":1},{"g":"8-10","t":113,"s":68.4,"c":1},{"g":"8-10","t":127,"s":64.9,"c":1},{"g":"8-10","t":133,"s":61.5,"c":1},{"g":"8-10","t":137,"s":61.5,"c":1},{"g":"8-10","t":141,"s":61.5,"c":1},{"g":"8-10","t":148,"s":54.6,"c":1},{"g":"8-10","t":151,"s":54.6,"c":1}
],
"B_DMFS":[
{"g":"2-6","t":0,"s":100},{"g":"2-6","t":18,"s":99.3},{"g":"2-6","t":42,"s":97.9},{"g":"2-6","t":150,"s":97.9},
{"g":"2-6","t":13,"s":100,"c":1},{"g":"2-6","t":16,"s":100,"c":1},{"g":"2-6","t":22,"s":99.3,"c":1},{"g":"2-6","t":28,"s":99.3,"c":1},{"g":"2-6","t":35,"s":99.3,"c":1},{"g":"2-6","t":41,"s":99.3,"c":1},{"g":"2-6","t":48,"s":97.9,"c":1},{"g":"2-6","t":57,"s":97.9,"c":1},{"g":"2-6","t":62,"s":97.9,"c":1},{"g":"2-6","t":70,"s":97.9,"c":1},{"g":"2-6","t":75,"s":97.9,"c":1},{"g":"2-6","t":78,"s":97.9,"c":1},{"g":"2-6","t":84,"s":97.9,"c":1},{"g":"2-6","t":88,"s":97.9,"c":1},{"g":"2-6","t":93,"s":97.9,"c":1},{"g":"2-6","t":100,"s":97.9,"c":1},{"g":"2-6","t":104,"s":97.9,"c":1},{"g":"2-6","t":108,"s":97.9,"c":1},{"g":"2-6","t":115,"s":97.9,"c":1},{"g":"2-6","t":120,"s":97.9,"c":1},{"g":"2-6","t":128,"s":97.9,"c":1},{"g":"2-6","t":133,"s":97.9,"c":1},{"g":"2-6","t":139,"s":97.9,"c":1},{"g":"2-6","t":146,"s":97.9,"c":1},{"g":"2-6","t":150,"s":97.9,"c":1},
{"g":"7","t":0,"s":100},{"g":"7","t":12,"s":99.3},{"g":"7","t":24,"s":97.9},{"g":"7","t":45,"s":96.6},{"g":"7","t":66.5,"s":95.2},{"g":"7","t":72.5,"s":93.8},{"g":"7","t":83,"s":92.4},{"g":"7","t":105.5,"s":91},{"g":"7","t":111.5,"s":89},{"g":"7","t":116,"s":87.6},{"g":"7","t":139,"s":85.6},{"g":"7","t":152,"s":85.6},
{"g":"7","t":27,"s":97.9,"c":1},{"g":"7","t":33,"s":97.9,"c":1},{"g":"7","t":50,"s":96.6,"c":1},{"g":"7","t":56,"s":96.6,"c":1},{"g":"7","t":60,"s":96.6,"c":1},{"g":"7","t":77,"s":93.8,"c":1},{"g":"7","t":88,"s":92.4,"c":1},{"g":"7","t":95,"s":92.4,"c":1},{"g":"7","t":108,"s":91,"c":1},{"g":"7","t":120,"s":87.6,"c":1},{"g":"7","t":125,"s":87.6,"c":1},{"g":"7","t":130,"s":87.6,"c":1},{"g":"7","t":135,"s":87.6,"c":1},{"g":"7","t":143,"s":85.6,"c":1},{"g":"7","t":148,"s":85.6,"c":1},{"g":"7","t":151,"s":85.6,"c":1},
{"g":"8-10","t":0,"s":100},{"g":"8-10","t":6,"s":98.6},{"g":"8-10","t":13.5,"s":96.6},{"g":"8-10","t":18,"s":95.2},{"g":"8-10","t":33,"s":93.1},{"g":"8-10","t":42,"s":91},{"g":"8-10","t":53,"s":89.7},{"g":"8-10","t":57.5,"s":86.9},{"g":"8-10","t":65,"s":85.6},{"g":"8-10","t":72.5,"s":82.8},{"g":"8-10","t":81.5,"s":81.4},{"g":"8-10","t":87.5,"s":80.1},{"g":"8-10","t":98,"s":78.7},{"g":"8-10","t":108.5,"s":78},{"g":"8-10","t":123.5,"s":75.9},{"g":"8-10","t":131,"s":71.8},{"g":"8-10","t":142,"s":69},{"g":"8-10","t":143.5,"s":67},{"g":"8-10","t":145,"s":62.2},{"g":"8-10","t":152,"s":62.2},
{"g":"8-10","t":10,"s":98.6,"c":1},{"g":"8-10","t":16,"s":96.6,"c":1},{"g":"8-10","t":24,"s":95.2,"c":1},{"g":"8-10","t":37,"s":93.1,"c":1},{"g":"8-10","t":48,"s":91,"c":1},{"g":"8-10","t":62,"s":86.9,"c":1},{"g":"8-10","t":78,"s":82.8,"c":1},{"g":"8-10","t":92,"s":80.1,"c":1},{"g":"8-10","t":104,"s":78.7,"c":1},{"g":"8-10","t":112,"s":78,"c":1},{"g":"8-10","t":116,"s":78,"c":1},{"g":"8-10","t":120,"s":78,"c":1},{"g":"8-10","t":126,"s":75.9,"c":1},{"g":"8-10","t":128,"s":75.9,"c":1},{"g":"8-10","t":135,"s":71.8,"c":1},{"g":"8-10","t":139,"s":71.8,"c":1},{"g":"8-10","t":148,"s":62.2,"c":1},{"g":"8-10","t":151,"s":62.2,"c":1}
],
"B_OS":[
{"g":"2-6","t":0,"s":100},{"g":"2-6","t":15,"s":98},{"g":"2-6","t":31.5,"s":96.8},{"g":"2-6","t":151,"s":96.8},
{"g":"2-6","t":35,"s":96.8,"c":1},{"g":"2-6","t":40,"s":96.8,"c":1},{"g":"2-6","t":55,"s":96.8,"c":1},{"g":"2-6","t":60,"s":96.8,"c":1},{"g":"2-6","t":65,"s":96.8,"c":1},{"g":"2-6","t":90,"s":96.8,"c":1},{"g":"2-6","t":96,"s":96.8,"c":1},{"g":"2-6","t":101,"s":96.8,"c":1},{"g":"2-6","t":107,"s":96.8,"c":1},{"g":"2-6","t":120,"s":96.8,"c":1},{"g":"2-6","t":126,"s":96.8,"c":1},{"g":"2-6","t":131,"s":96.8,"c":1},{"g":"2-6","t":136,"s":96.8,"c":1},{"g":"2-6","t":140,"s":96.8,"c":1},{"g":"2-6","t":148,"s":96.8,"c":1},
{"g":"7","t":0,"s":100},{"g":"7","t":27,"s":99.3},{"g":"7","t":61.5,"s":98.6},{"g":"7","t":67.5,"s":97.2},{"g":"7","t":73.5,"s":95.9},{"g":"7","t":85.5,"s":94.5},{"g":"7","t":99,"s":93.8},{"g":"7","t":111,"s":93.1},{"g":"7","t":132,"s":91},{"g":"7","t":152,"s":91},
{"g":"7","t":28,"s":99.3,"c":1},{"g":"7","t":45,"s":99.3,"c":1},{"g":"7","t":50,"s":99.3,"c":1},{"g":"7","t":53,"s":99.3,"c":1},{"g":"7","t":56,"s":99.3,"c":1},{"g":"7","t":59,"s":99.3,"c":1},{"g":"7","t":90,"s":94.5,"c":1},{"g":"7","t":103,"s":93.8,"c":1},{"g":"7","t":118,"s":93.1,"c":1},{"g":"7","t":122,"s":93.1,"c":1},{"g":"7","t":127,"s":93.1,"c":1},{"g":"7","t":137,"s":91,"c":1},{"g":"7","t":141,"s":91,"c":1},{"g":"7","t":150,"s":91,"c":1},
{"g":"8-10","t":0,"s":100},{"g":"8-10","t":30,"s":98.6},{"g":"8-10","t":46.5,"s":96.6},{"g":"8-10","t":54,"s":95.2},{"g":"8-10","t":63,"s":93.8},{"g":"8-10","t":70.5,"s":92.4},{"g":"8-10","t":81,"s":91},{"g":"8-10","t":90,"s":89.7},{"g":"8-10","t":97.5,"s":88.3},{"g":"8-10","t":102,"s":86.9},{"g":"8-10","t":111,"s":85.5},{"g":"8-10","t":115.5,"s":84.9},{"g":"8-10","t":152,"s":84.9},
{"g":"8-10","t":13,"s":100,"c":1},{"g":"8-10","t":16,"s":100,"c":1},{"g":"8-10","t":21,"s":100,"c":1},{"g":"8-10","t":23,"s":100,"c":1},{"g":"8-10","t":37,"s":98.6,"c":1},{"g":"8-10","t":50,"s":96.6,"c":1},{"g":"8-10","t":60,"s":95.2,"c":1},{"g":"8-10","t":75,"s":92.4,"c":1},{"g":"8-10","t":85,"s":91,"c":1},{"g":"8-10","t":94,"s":89.7,"c":1},{"g":"8-10","t":106,"s":86.9,"c":1},{"g":"8-10","t":120,"s":84.9,"c":1},{"g":"8-10","t":124,"s":84.9,"c":1},{"g":"8-10","t":128,"s":84.9,"c":1},{"g":"8-10","t":133,"s":84.9,"c":1},{"g":"8-10","t":137,"s":84.9,"c":1},{"g":"8-10","t":141,"s":84.9,"c":1},{"g":"8-10","t":146,"s":84.9,"c":1},{"g":"8-10","t":151,"s":84.9,"c":1}
],
"B_CSS":[
{"g":"2-6","t":0,"s":100},{"g":"2-6","t":133.5,"s":99.3},{"g":"2-6","t":151,"s":99.3},
{"g":"2-6","t":78,"s":100,"c":1},{"g":"2-6","t":85,"s":100,"c":1},{"g":"2-6","t":90,"s":100,"c":1},{"g":"2-6","t":95,"s":100,"c":1},{"g":"2-6","t":102,"s":100,"c":1},{"g":"2-6","t":110,"s":100,"c":1},{"g":"2-6","t":118,"s":100,"c":1},{"g":"2-6","t":122,"s":100,"c":1},{"g":"2-6","t":126,"s":100,"c":1},{"g":"2-6","t":137,"s":99.3,"c":1},{"g":"2-6","t":142,"s":99.3,"c":1},{"g":"2-6","t":148,"s":99.3,"c":1},
{"g":"7","t":0,"s":100},{"g":"7","t":63,"s":99.3},{"g":"7","t":75,"s":98.6},{"g":"7","t":133.5,"s":97.2},{"g":"7","t":152,"s":97.2},
{"g":"7","t":14,"s":100,"c":1},{"g":"7","t":20,"s":100,"c":1},{"g":"7","t":32,"s":100,"c":1},{"g":"7","t":37,"s":100,"c":1},{"g":"7","t":45,"s":100,"c":1},{"g":"7","t":50,"s":100,"c":1},{"g":"7","t":69,"s":99.3,"c":1},{"g":"7","t":137,"s":97.2,"c":1},{"g":"7","t":142,"s":97.2,"c":1},{"g":"7","t":149,"s":97.2,"c":1},
{"g":"8-10","t":0,"s":100},{"g":"8-10","t":36,"s":99.3},{"g":"8-10","t":60,"s":97.9},{"g":"8-10","t":69,"s":96.6},{"g":"8-10","t":81,"s":95.2},{"g":"8-10","t":88.5,"s":93.8},{"g":"8-10","t":97.5,"s":92.4},{"g":"8-10","t":152,"s":92.4},
{"g":"8-10","t":12,"s":100,"c":1},{"g":"8-10","t":20,"s":100,"c":1},{"g":"8-10","t":23,"s":100,"c":1},{"g":"8-10","t":29,"s":100,"c":1},{"g":"8-10","t":42,"s":99.3,"c":1},{"g":"8-10","t":48,"s":99.3,"c":1},{"g":"8-10","t":55,"s":99.3,"c":1},{"g":"8-10","t":63,"s":97.9,"c":1},{"g":"8-10","t":72,"s":96.6,"c":1},{"g":"8-10","t":85,"s":95.2,"c":1},{"g":"8-10","t":92,"s":93.8,"c":1},{"g":"8-10","t":123,"s":92.4,"c":1},{"g":"8-10","t":126,"s":92.4,"c":1},{"g":"8-10","t":130,"s":92.4,"c":1},{"g":"8-10","t":135,"s":92.4,"c":1},{"g":"8-10","t":139,"s":92.4,"c":1},{"g":"8-10","t":143,"s":92.4,"c":1},{"g":"8-10","t":146,"s":92.4,"c":1},{"g":"8-10","t":151,"s":92.4,"c":1}
]
},
"resolve":{"scale":{"color":"independent"},"legend":{"color":"independent"}},
"spacing":74,
"vconcat":[
{"title":{"text":"A","anchor":"end","fontSize":24,"fontWeight":"bold","dx":22,"offset":2},
 "resolve":{"scale":{"color":"independent"},"legend":{"color":"independent"}},
 "vconcat":[{
  "title":{"text":"Pre-RT PSA","anchor":"middle","fontSize":21,"offset":30},
  "resolve":{"scale":{"color":"independent"},"legend":{"color":"independent"}},
  "spacing":52.5,
  "vconcat":[
   {"spacing":57,"resolve":{"scale":{"color":"independent"},"legend":{"color":"independent"}},"hconcat":[
    {"title":"BCFFS","data":{"name":"A_BCFFS"},
     "encoding":{"x":{"field":"t","type":"quantitative","scale":{"domain":[0,152],"nice":false},"axis":{"values":[0,24,48,72,96,120,144],"title":"Time (mo)"}},"y":{"field":"s","type":"quantitative","scale":{"domain":[0,100],"nice":false},"axis":{"values":[0,20,40,60,80,100],"title":"Probability (%)"}},"color":{"field":"g","type":"nominal","scale":{"domain":["< 0.2","0.2-0.5","0.5-1.0","> 1.0"],"range":["#4D6A9E","#B35A66","#76A94B","#F47B2E"]},"legend":{"title":null}}},
     "layer":[{"transform":[{"filter":"!datum.c"}],"mark":{"type":"line","interpolate":"step-after","strokeWidth":3.3}},{"transform":[{"filter":"datum.c==1"}],"mark":{"type":"tick","orient":"vertical","size":9,"thickness":2.5},"encoding":{"color":{"field":"g","type":"nominal","legend":null}}}]},
    {"title":"CFFS","data":{"name":"A_CFFS"},
     "encoding":{"x":{"field":"t","type":"quantitative","scale":{"domain":[0,152],"nice":false},"axis":{"values":[0,24,48,72,96,120,144],"title":"Time (mo)"}},"y":{"field":"s","type":"quantitative","scale":{"domain":[0,100],"nice":false},"axis":{"values":[0,20,40,60,80,100],"title":"Probability (%)"}},"color":{"field":"g","type":"nominal","scale":{"domain":["< 0.2","0.2-0.5","0.5-1.0","> 1.0"],"range":["#4D6A9E","#B35A66","#76A94B","#F47B2E"]},"legend":{"title":null}}},
     "layer":[{"transform":[{"filter":"!datum.c"}],"mark":{"type":"line","interpolate":"step-after","strokeWidth":3.3}},{"transform":[{"filter":"datum.c==1"}],"mark":{"type":"tick","orient":"vertical","size":9,"thickness":2.5},"encoding":{"color":{"field":"g","type":"nominal","legend":null}}}]},
    {"title":"DMFS","data":{"name":"A_DMFS"},
     "encoding":{"x":{"field":"t","type":"quantitative","scale":{"domain":[0,152],"nice":false},"axis":{"values":[0,24,48,72,96,120,144],"title":"Time (mo)"}},"y":{"field":"s","type":"quantitative","scale":{"domain":[0,100],"nice":false},"axis":{"values":[0,20,40,60,80,100],"title":"Probability (%)"}},"color":{"field":"g","type":"nominal","scale":{"domain":["< 0.2","0.2-0.5","0.5-1.0","> 1.0"],"range":["#4D6A9E","#B35A66","#76A94B","#F47B2E"]},"legend":{"title":null}}},
     "layer":[{"transform":[{"filter":"!datum.c"}],"mark":{"type":"line","interpolate":"step-after","strokeWidth":3.3}},{"transform":[{"filter":"datum.c==1"}],"mark":{"type":"tick","orient":"vertical","size":9,"thickness":2.5},"encoding":{"color":{"field":"g","type":"nominal","legend":null}}}]}
   ]},
   {"spacing":57,"resolve":{"scale":{"color":"independent"},"legend":{"color":"independent"}},"hconcat":[
    {"title":"OS","data":{"name":"A_OS"},
     "encoding":{"x":{"field":"t","type":"quantitative","scale":{"domain":[0,152],"nice":false},"axis":{"values":[0,24,48,72,96,120,144],"title":"Time (mo)"}},"y":{"field":"s","type":"quantitative","scale":{"domain":[0,100],"nice":false},"axis":{"values":[0,20,40,60,80,100],"title":"Probability (%)"}},"color":{"field":"g","type":"nominal","scale":{"domain":["< 0.2","0.2-0.5","0.5-1.0","> 1.0"],"range":["#4D6A9E","#B35A66","#76A94B","#F47B2E"]},"legend":{"title":null}}},
     "layer":[{"transform":[{"filter":"!datum.c"}],"mark":{"type":"line","interpolate":"step-after","strokeWidth":3.3}},{"transform":[{"filter":"datum.c==1"}],"mark":{"type":"tick","orient":"vertical","size":9,"thickness":2.5},"encoding":{"color":{"field":"g","type":"nominal","legend":null}}}]},
    {"title":"CSS","data":{"name":"A_CSS"},
     "encoding":{"x":{"field":"t","type":"quantitative","scale":{"domain":[0,152],"nice":false},"axis":{"values":[0,24,48,72,96,120,144],"title":"Time (mo)"}},"y":{"field":"s","type":"quantitative","scale":{"domain":[0,100],"nice":false},"axis":{"values":[0,20,40,60,80,100],"title":"Probability (%)"}},"color":{"field":"g","type":"nominal","scale":{"domain":["< 0.2","0.2-0.5","0.5-1.0","> 1.0"],"range":["#4D6A9E","#B35A66","#76A94B","#F47B2E"]},"legend":{"title":null}}},
     "layer":[{"transform":[{"filter":"!datum.c"}],"mark":{"type":"line","interpolate":"step-after","strokeWidth":3.3}},{"transform":[{"filter":"datum.c==1"}],"mark":{"type":"tick","orient":"vertical","size":9,"thickness":2.5},"encoding":{"color":{"field":"g","type":"nominal","legend":null}}}]}
   ]}
  ]
 }]
},
{"title":{"text":"B","anchor":"end","fontSize":24,"fontWeight":"bold","dx":22,"offset":2},
 "resolve":{"scale":{"color":"independent"},"legend":{"color":"independent"}},
 "vconcat":[{
  "title":{"text":"Gleason score","anchor":"middle","fontSize":21,"offset":30},
  "resolve":{"scale":{"color":"independent"},"legend":{"color":"independent"}},
  "spacing":52.5,
  "vconcat":[
   {"spacing":57,"resolve":{"scale":{"color":"independent"},"legend":{"color":"independent"}},"hconcat":[
    {"title":"BCFFS","data":{"name":"B_BCFFS"},
     "encoding":{"x":{"field":"t","type":"quantitative","scale":{"domain":[0,152],"nice":false},"axis":{"values":[0,24,48,72,96,120,144],"title":"Time (mo)"}},"y":{"field":"s","type":"quantitative","scale":{"domain":[0,100],"nice":false},"axis":{"values":[0,20,40,60,80,100],"title":"Probability (%)"}},"color":{"field":"g","type":"nominal","scale":{"domain":["2-6","7","8-10"],"range":["#4D6A9E","#B35A66","#76A94B"]},"legend":{"title":null,"offset":20}}},
     "layer":[{"transform":[{"filter":"!datum.c"}],"mark":{"type":"line","interpolate":"step-after","strokeWidth":3.3}},{"transform":[{"filter":"datum.c==1"}],"mark":{"type":"tick","orient":"vertical","size":9,"thickness":2.5},"encoding":{"color":{"field":"g","type":"nominal","legend":null}}}]},
    {"title":"CFFS","data":{"name":"B_CFFS"},
     "encoding":{"x":{"field":"t","type":"quantitative","scale":{"domain":[0,152],"nice":false},"axis":{"values":[0,24,48,72,96,120,144],"title":"Time (mo)"}},"y":{"field":"s","type":"quantitative","scale":{"domain":[0,100],"nice":false},"axis":{"values":[0,20,40,60,80,100],"title":"Probability (%)"}},"color":{"field":"g","type":"nominal","scale":{"domain":["2-6","7","8-10"],"range":["#4D6A9E","#B35A66","#76A94B"]},"legend":{"title":null,"offset":20}}},
     "layer":[{"transform":[{"filter":"!datum.c"}],"mark":{"type":"line","interpolate":"step-after","strokeWidth":3.3}},{"transform":[{"filter":"datum.c==1"}],"mark":{"type":"tick","orient":"vertical","size":9,"thickness":2.5},"encoding":{"color":{"field":"g","type":"nominal","legend":null}}}]},
    {"title":"DMFS","data":{"name":"B_DMFS"},
     "encoding":{"x":{"field":"t","type":"quantitative","scale":{"domain":[0,152],"nice":false},"axis":{"values":[0,24,48,72,96,120,144],"title":"Time (mo)"}},"y":{"field":"s","type":"quantitative","scale":{"domain":[0,100],"nice":false},"axis":{"values":[0,20,40,60,80,100],"title":"Probability (%)"}},"color":{"field":"g","type":"nominal","scale":{"domain":["2-6","7","8-10"],"range":["#4D6A9E","#B35A66","#76A94B"]},"legend":{"title":null,"offset":20}}},
     "layer":[{"transform":[{"filter":"!datum.c"}],"mark":{"type":"line","interpolate":"step-after","strokeWidth":3.3}},{"transform":[{"filter":"datum.c==1"}],"mark":{"type":"tick","orient":"vertical","size":9,"thickness":2.5},"encoding":{"color":{"field":"g","type":"nominal","legend":null}}}]}
   ]},
   {"spacing":57,"resolve":{"scale":{"color":"independent"},"legend":{"color":"independent"}},"hconcat":[
    {"title":"OS","data":{"name":"B_OS"},
     "encoding":{"x":{"field":"t","type":"quantitative","scale":{"domain":[0,152],"nice":false},"axis":{"values":[0,24,48,72,96,120,144],"title":"Time (mo)"}},"y":{"field":"s","type":"quantitative","scale":{"domain":[0,100],"nice":false},"axis":{"values":[0,20,40,60,80,100],"title":"Probability (%)"}},"color":{"field":"g","type":"nominal","scale":{"domain":["2-6","7","8-10"],"range":["#4D6A9E","#B35A66","#76A94B"]},"legend":{"title":null,"offset":20}}},
     "layer":[{"transform":[{"filter":"!datum.c"}],"mark":{"type":"line","interpolate":"step-after","strokeWidth":3.3}},{"transform":[{"filter":"datum.c==1"}],"mark":{"type":"tick","orient":"vertical","size":9,"thickness":2.5},"encoding":{"color":{"field":"g","type":"nominal","legend":null}}}]},
    {"title":"CSS","data":{"name":"B_CSS"},
     "encoding":{"x":{"field":"t","type":"quantitative","scale":{"domain":[0,152],"nice":false},"axis":{"values":[0,24,48,72,96,120,144],"title":"Time (mo)"}},"y":{"field":"s","type":"quantitative","scale":{"domain":[0,100],"nice":false},"axis":{"values":[0,20,40,60,80,100],"title":"Probability (%)"}},"color":{"field":"g","type":"nominal","scale":{"domain":["2-6","7","8-10"],"range":["#4D6A9E","#B35A66","#76A94B"]},"legend":{"title":null,"offset":20}}},
     "layer":[{"transform":[{"filter":"!datum.c"}],"mark":{"type":"line","interpolate":"step-after","strokeWidth":3.3}},{"transform":[{"filter":"datum.c==1"}],"mark":{"type":"tick","orient":"vertical","size":9,"thickness":2.5},"encoding":{"color":{"field":"g","type":"nominal","legend":null}}}]}
   ]}
  ]
 }]
}
]
}
